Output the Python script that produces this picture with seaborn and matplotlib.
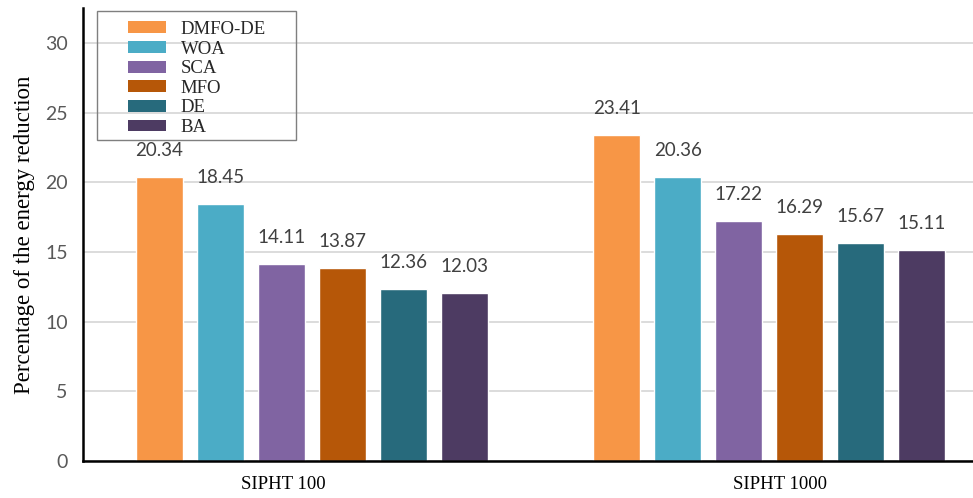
import matplotlib
matplotlib.use("Agg")
import matplotlib.pyplot as plt
import matplotlib.transforms as mtransforms
from matplotlib.patches import Patch, Rectangle
import pandas as pd
import seaborn as sns

# Data
workflows = ["SIPHT 100", "SIPHT 1000"]
algorithms = ["DMFO-DE", "WOA", "SCA", "MFO", "DE", "BA"]
sipht_100 = [20.34, 18.45, 14.11, 13.87, 12.36, 12.03]
sipht_1000 = [23.41, 20.36, 17.22, 16.29, 15.67, 15.11]
colors = ["#F79646", "#4BACC6", "#8064A2", "#B65708", "#276A7C", "#4D3B62"]
y_ticks = [0, 5, 10, 15, 20, 25, 30]

df = pd.DataFrame({
    "workflow": [workflows[0]] * len(algorithms) + [workflows[1]] * len(algorithms),
    "algorithm": algorithms * 2,
    "value": sipht_100 + sipht_1000,
})

sns.set_theme(style="white")
serif = ["Liberation Serif", "DejaVu Serif"]
sans = ["Lato", "DejaVu Sans"]

fig = plt.figure(figsize=(9.73, 4.98), dpi=100)
ax = fig.add_axes([83 / 973, 1 - 461 / 498, 890 / 973, 453 / 498])

sns.barplot(data=df, x="workflow", y="value", hue="algorithm",
            hue_order=algorithms, palette=colors, order=workflows,
            width=0.8, gap=0.23, saturation=1, legend=False, ax=ax)

for cont in ax.containers:
    ax.bar_label(cont, fmt="%.2f", padding=13, fontsize=13.5,
                 color="#404040", family=sans)

ax.set_ylim(0, 32.5)
ax.set_xlim(-0.5, 1.445)
ax.set_yticks(y_ticks)
ax.set_yticklabels([str(t) for t in y_ticks], family=sans, fontsize=14,
                   color="#595959")
ax.tick_params(axis="y", length=0, pad=11)
ax.tick_params(axis="x", length=0, pad=11)
ax.yaxis.grid(True, color="#d9d9d9", linewidth=1.3)
ax.set_axisbelow(True)

for lbl, dx in zip(ax.get_xticklabels(), [-28, 11]):
    lbl.set_family(serif)
    lbl.set_fontsize(13.5)
    lbl.set_color("black")
    lbl.set_transform(lbl.get_transform() +
                      mtransforms.ScaledTranslation(dx / 100, 0, fig.dpi_scale_trans))

ax.set_xlabel("")
ax.set_ylabel("Percentage of the energy reduction", family=serif,
              fontsize=16.5, color="black", labelpad=7)

for side in ["top", "right"]:
    ax.spines[side].set_visible(False)
for side in ["left", "bottom"]:
    ax.spines[side].set_color("black")
    ax.spines[side].set_linewidth(1.8)

# Legend with a plain grey frame
handles = [Patch(facecolor=c, edgecolor="none") for c in colors]
leg = ax.legend(handles, algorithms, loc="upper left",
                bbox_to_anchor=(128 / 973, 1 - 21 / 498),
                bbox_transform=fig.transFigure, frameon=False,
                prop={"family": serif, "size": 13.5},
                handlelength=2.0, handleheight=0.6, handletextpad=0.8,
                labelspacing=0.14, borderpad=0, borderaxespad=0)
fig.patches.append(Rectangle((97 / 973, 1 - 140 / 498), 199 / 973, 129 / 498,
                             transform=fig.transFigure, fill=False,
                             edgecolor="#7f7f7f", linewidth=1.0, zorder=5))

fig.savefig("out.png", dpi=100)
